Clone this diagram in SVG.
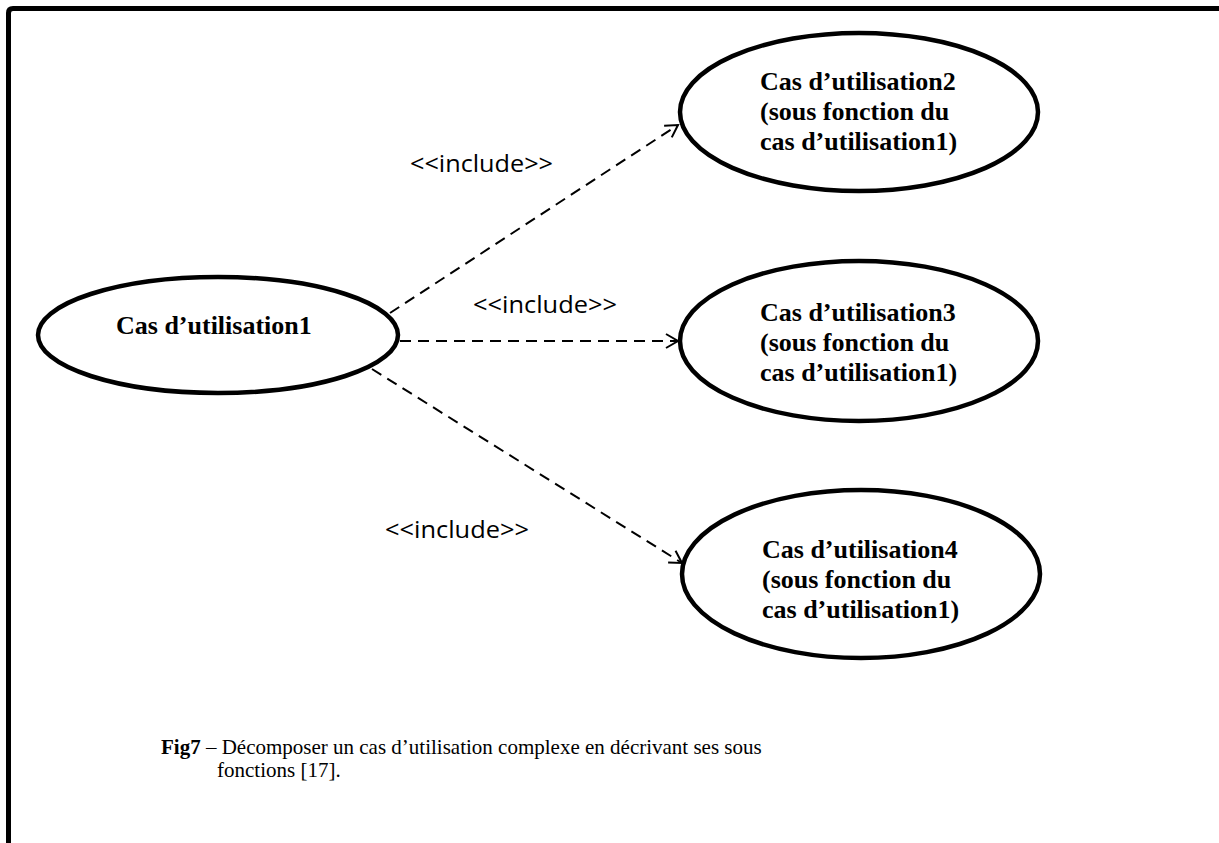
<svg xmlns="http://www.w3.org/2000/svg" width="1219" height="843" viewBox="0 0 1219 843">
  <style>
    .uc { fill: #ffffff; stroke: #000000; stroke-width: 4.5; }
    .uc-text { font-family: "Liberation Serif", "Times New Roman", serif; font-weight: bold; font-size: 26px; fill: #000000; }
    .dep { fill: none; stroke: #000000; stroke-width: 2; stroke-dasharray: 11 7; }
    .stereo { font-family: "Open Sans", "Liberation Sans", sans-serif; font-size: 24px; fill: #000000; }
    .caption { font-family: "Liberation Serif", "Times New Roman", serif; font-size: 21px; fill: #000000; }
  </style>
  <defs>
    <marker id="open-arrow" markerUnits="userSpaceOnUse" markerWidth="20" markerHeight="20" refX="0" refY="0" viewBox="-14 -10 16 20" orient="auto">
      <path d="M -12 -7 L 0 0 L -12 7" fill="none" stroke="#000000" stroke-width="2" stroke-dasharray="none"/>
    </marker>
  </defs>

  <rect x="0" y="0" width="1219" height="843" fill="#ffffff"/>

  <!-- frame: top and left edges only -->
  <path d="M 8.5 843 V 13 Q 8.5 8.5 13 8.5 H 1219" fill="none" stroke="#000000" stroke-width="5"/>

  <!-- include dependencies -->
  <g id="connectors">
    <line class="dep" x1="390" y1="313" x2="678" y2="125" marker-end="url(#open-arrow)"/>
    <line class="dep" x1="400" y1="341" x2="678" y2="341" marker-end="url(#open-arrow)"/>
    <line class="dep" x1="372" y1="369" x2="682" y2="563" marker-end="url(#open-arrow)"/>
    <text class="stereo" x="410" y="172" textLength="143" lengthAdjust="spacingAndGlyphs">&lt;&lt;include&gt;&gt;</text>
    <text class="stereo" x="473" y="313" textLength="144" lengthAdjust="spacingAndGlyphs">&lt;&lt;include&gt;&gt;</text>
    <text class="stereo" x="385" y="538" textLength="144" lengthAdjust="spacingAndGlyphs">&lt;&lt;include&gt;&gt;</text>
  </g>

  <g id="uc1">
    <ellipse class="uc" cx="218" cy="335" rx="180" ry="58"/>
    <text class="uc-text" x="116" y="334">Cas d’utilisation1</text>
  </g>

  <g id="uc2">
    <ellipse class="uc" cx="859" cy="112" rx="179" ry="79"/>
    <text class="uc-text" x="760" y="90">Cas d’utilisation2</text>
    <text class="uc-text" x="760" y="120">(sous fonction du</text>
    <text class="uc-text" x="760" y="150">cas d’utilisation1)</text>
  </g>

  <g id="uc3">
    <ellipse class="uc" cx="859" cy="341" rx="179" ry="80"/>
    <text class="uc-text" x="760" y="321">Cas d’utilisation3</text>
    <text class="uc-text" x="760" y="351">(sous fonction du</text>
    <text class="uc-text" x="760" y="381">cas d’utilisation1)</text>
  </g>

  <g id="uc4">
    <ellipse class="uc" cx="861" cy="574" rx="179" ry="84"/>
    <text class="uc-text" x="762" y="558">Cas d’utilisation4</text>
    <text class="uc-text" x="762" y="588">(sous fonction du</text>
    <text class="uc-text" x="762" y="618">cas d’utilisation1)</text>
  </g>

  <g id="caption">
    <text class="caption" x="161" y="754"><tspan font-weight="bold">Fig7</tspan> – Décomposer un cas d’utilisation complexe en décrivant ses sous</text>
    <text class="caption" x="217" y="777">fonctions [17].</text>
  </g>
</svg>
